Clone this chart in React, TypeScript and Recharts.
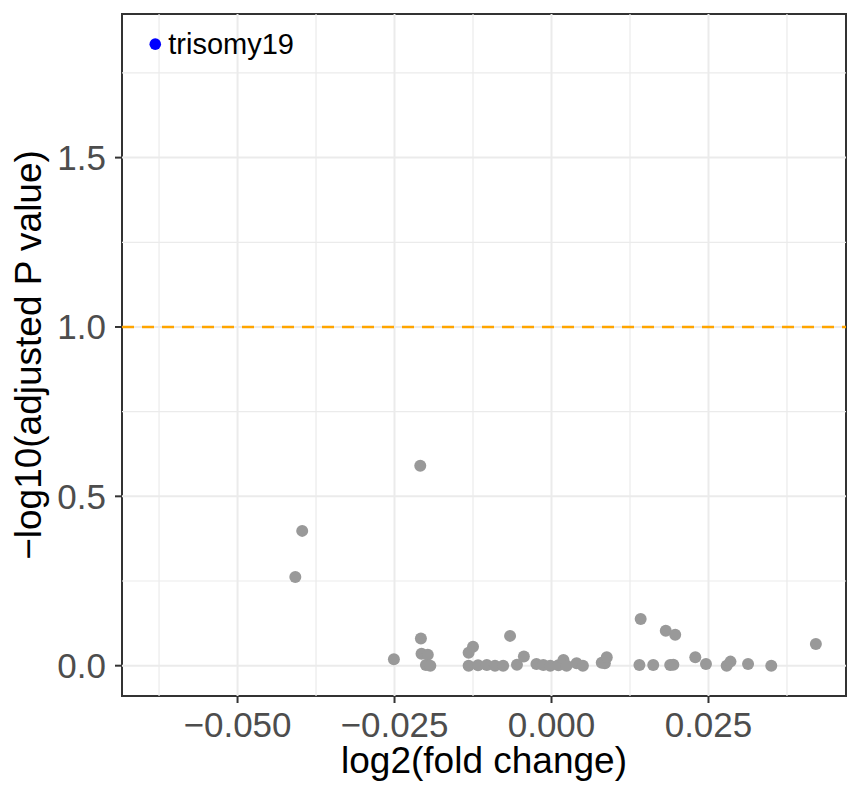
import React from 'react'
import {
  ScatterChart,
  Scatter,
  XAxis,
  YAxis,
  ReferenceLine,
  ReferenceArea,
} from 'recharts'

const FONT = '"Liberation Sans", Arial, Helvetica, sans-serif'

// log2 fold change / -log10 adjusted p for the grey (non-significant) points
const log2FC = [
  -0.0397, -0.0408, -0.0209, -0.0251, -0.0208, -0.0207, -0.0197, -0.02, -0.0193, -0.0125,
  -0.0132, -0.0132, -0.0117, -0.0103, -0.009, -0.0077, -0.0066, -0.0055, -0.0044, -0.0024,
  -0.0013, -0.0002, 0.0011, 0.0019, 0.0024, 0.004, 0.005, 0.008, 0.0085, 0.0088,
  0.0142, 0.014, 0.0162, 0.0182, 0.0197, 0.0189, 0.0194, 0.0229, 0.0246, 0.0279,
  0.0285, 0.0313, 0.035, 0.0421,
]
const negLog10P = [
  0.398, 0.262, 0.59, 0.019, 0.08, 0.035, 0.032, 0.002, 0.0, 0.056,
  0.038, 0.0, 0.001, 0.002, 0.0, 0.0, 0.088, 0.003, 0.027, 0.005,
  0.002, 0.0, 0.001, 0.017, 0.0, 0.007, 0.0, 0.009, 0.007, 0.025,
  0.138, 0.002, 0.002, 0.103, 0.091, 0.002, 0.003, 0.025, 0.005, 0.0,
  0.012, 0.005, 0.0, 0.064,
]

// the one highlighted hit
const hitNames = ['trisomy19']
const hitFC = [-0.0631]
const hitP = [1.835]

const xTicks = [-0.05, -0.025, 0, 0.025]
const xMinor = [-0.0625, -0.0375, -0.0125, 0.0125, 0.0375]
const yTicks = [0, 0.5, 1, 1.5]
const yMinor = [0.25, 0.75, 1.25, 1.75]
const threshold = 1

const X_DOMAIN: [number, number] = [-0.0684, 0.0469]
const Y_DOMAIN: [number, number] = [-0.0895, 1.924]

const greyPoints = log2FC.map((x, i) => ({ x, y: negLog10P[i] }))
const hitPoints = hitNames.map((name, i) => ({ name, x: hitFC[i], y: hitP[i] }))

const fmtX = (v: number) => (v < 0 ? '\u2212' : '') + Math.abs(v).toFixed(3)
const fmtY = (v: number) => v.toFixed(1)

const tickStyle = { fill: '#4D4D4D', fontSize: 35, fontFamily: FONT }

export default function App() {
  return (
    <div style={{ position: 'absolute', left: 0, top: 0, background: '#fff' }}>
      <ScatterChart width={847} height={788} margin={{ top: 14, right: 1, bottom: 0, left: 0 }}>
        <XAxis
          type="number"
          dataKey="x"
          domain={X_DOMAIN}
          allowDataOverflow
          ticks={xTicks}
          tickFormatter={fmtX}
          height={92}
          axisLine={false}
          tickLine={{ stroke: '#333333', strokeWidth: 2 }}
          tickSize={7}
          tickMargin={9}
          tick={tickStyle}
          label={{
            content: (p: any) => (
              <text
                x={p.viewBox.x + p.viewBox.width / 2}
                y={773}
                textAnchor="middle"
                fontSize={37}
                fontFamily={FONT}
                fill="#000"
              >
                log2(fold change)
              </text>
            ),
          }}
        />
        <YAxis
          type="number"
          dataKey="y"
          domain={Y_DOMAIN}
          allowDataOverflow
          ticks={yTicks}
          tickFormatter={fmtY}
          width={122}
          axisLine={false}
          tickLine={{ stroke: '#333333', strokeWidth: 2 }}
          tickSize={7}
          tickMargin={9}
          tick={tickStyle}
          label={{
            content: (p: any) => {
              const cy = p.viewBox.y + p.viewBox.height / 2
              return (
                <text
                  x={41}
                  y={cy}
                  transform={`rotate(-90, 41, ${cy})`}
                  textAnchor="middle"
                  fontSize={37}
                  fontFamily={FONT}
                  fill="#000"
                >
                  {'\u2212log10(adjusted P value)'}
                </text>
              )
            },
          }}
        />
        {yMinor.map((v) => (
          <ReferenceLine key={`ym${v}`} y={v} stroke="#EBEBEB" strokeWidth={1.2} />
        ))}
        {xMinor.map((v) => (
          <ReferenceLine key={`xm${v}`} x={v} stroke="#EBEBEB" strokeWidth={1.2} />
        ))}
        {yTicks.map((v) => (
          <ReferenceLine key={`yM${v}`} y={v} stroke="#EBEBEB" strokeWidth={2} />
        ))}
        {xTicks.map((v) => (
          <ReferenceLine key={`xM${v}`} x={v} stroke="#EBEBEB" strokeWidth={2} />
        ))}
        <ReferenceLine y={threshold} stroke="#FFA500" strokeWidth={2.5} strokeDasharray="12 8" />
        <Scatter
          data={greyPoints}
          isAnimationActive={false}
          shape={(p: any) => <circle cx={p.cx} cy={p.cy} r={6} fill="#999999" />}
        />
        <Scatter
          data={hitPoints}
          isAnimationActive={false}
          shape={(p: any) => (
            <g>
              <circle cx={p.cx} cy={p.cy} r={5.8} fill="#0000FF" />
              <text x={p.cx + 13} y={p.cy + 10} fontSize={29} fontFamily={FONT} fill="#000">
                {p.payload.name}
              </text>
            </g>
          )}
        />
        <ReferenceArea
          x1={X_DOMAIN[0]}
          x2={X_DOMAIN[1]}
          y1={Y_DOMAIN[0]}
          y2={Y_DOMAIN[1]}
          fill="none"
          fillOpacity={0}
          stroke="#333333"
          strokeWidth={2}
        />
      </ScatterChart>
    </div>
  )
}
